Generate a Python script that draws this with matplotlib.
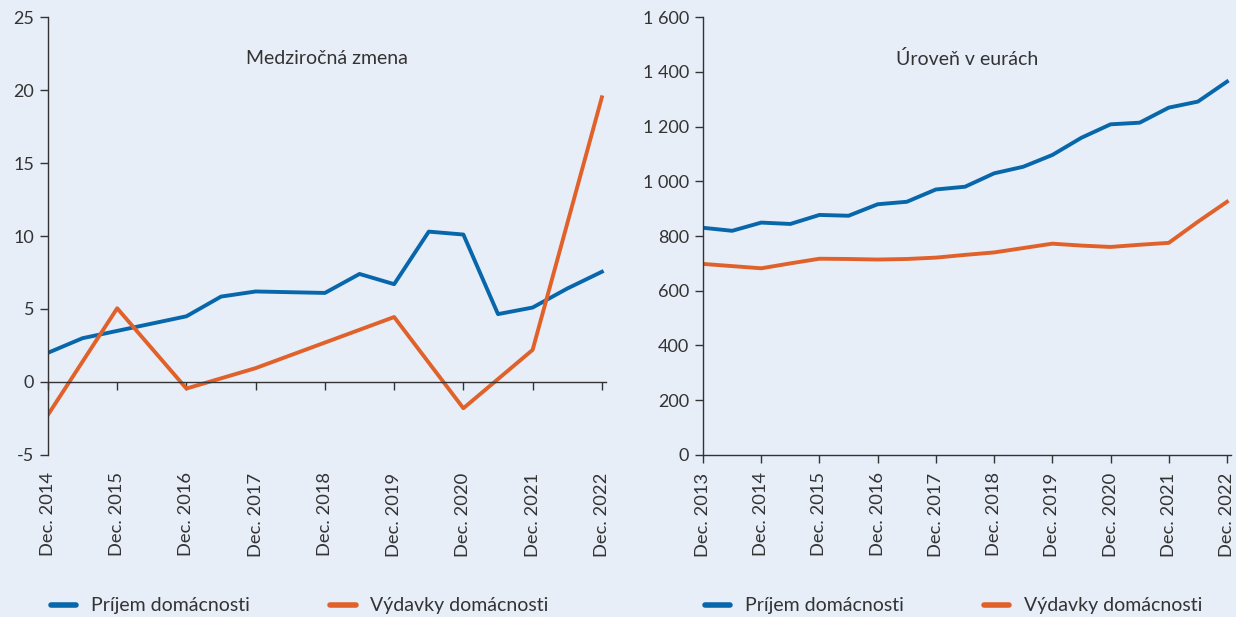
import matplotlib
matplotlib.use("Agg")
import matplotlib.pyplot as plt
from matplotlib.ticker import FuncFormatter, FixedLocator
from matplotlib.transforms import blended_transform_factory
from matplotlib.lines import Line2D

plt.rcParams['font.family'] = ['Lato', 'DejaVu Sans']

# left panel: year-on-year change (%), half-yearly, Dec 2014 .. Dec 2022
yoy_income = [2.0, 3.0, 3.5, 4.0, 4.5, 5.85, 6.2, 6.15, 6.1, 7.4, 6.7,
              10.3, 10.1, 4.65, 5.1, 6.4, 7.55]
# expenditures are yearly only (Dec 2014 .. Dec 2022)
yoy_spend = [-2.25, 5.05, -0.45, 0.95, 2.7, 4.45, -1.8, 2.2, 19.5]
yoy_labels = ["Dec. 2014", "Dec. 2015", "Dec. 2016", "Dec. 2017", "Dec. 2018",
              "Dec. 2019", "Dec. 2020", "Dec. 2021", "Dec. 2022"]

# right panel: level in EUR, half-yearly, Dec 2013 .. Dec 2022
lvl_income = [830, 819, 849, 844, 877, 874, 916, 925, 970, 980, 1029, 1053,
              1096, 1159, 1208, 1214, 1269, 1291, 1364]
lvl_spend = [698, 690, 682, 700, 717, 716, 714, 716, 721, 731, 740, 756,
             772, 765, 760, 768, 775, 852, 925]
lvl_labels = ["Dec. 2013", "Dec. 2014", "Dec. 2015", "Dec. 2016", "Dec. 2017",
              "Dec. 2018", "Dec. 2019", "Dec. 2020", "Dec. 2021", "Dec. 2022"]

titles = ["Medziročná zmena", "Úroveň v eurách"]
names = ["Príjem domácnosti", "Výdavky domácnosti"]

BG = "#e7eef8"
BLUE = "#0867ab"
ORANGE = "#e0622a"
DARK = "#333333"

fig = plt.figure(figsize=(12.36, 6.17), dpi=100, facecolor=BG)
ax1 = fig.add_axes([0.0388, 0.2626, 0.4515, 0.7098], facecolor=BG)
ax2 = fig.add_axes([0.5688, 0.2626, 0.4272, 0.7098], facecolor=BG)


def thousands(v, pos):
    return "{:,.0f}".format(v).replace(",", " ")


def style(ax, labels, step):
    for s in ["top", "right"]:
        ax.spines[s].set_visible(False)
    for s in ["left", "bottom"]:
        ax.spines[s].set_color(DARK)
        ax.spines[s].set_linewidth(1.0)
    ticks = [i * step for i in range(len(labels))]
    ax.xaxis.set_major_locator(FixedLocator(ticks))
    ax.tick_params(axis="x", direction="out", length=6, width=1, color=DARK,
                   labelbottom=False)
    ax.tick_params(axis="y", direction="out", length=6, width=1, color=DARK,
                   labelsize=13, labelcolor=DARK, pad=4)
    ax.yaxis.set_major_formatter(FuncFormatter(thousands))
    tr = blended_transform_factory(ax.transData, ax.transAxes)
    for t, lab in zip(ticks, labels):
        ax.text(t, -0.04, lab, transform=tr, rotation=90, ha="center",
                va="top", fontsize=13.2, color=DARK)


# left panel
x_half = list(range(len(yoy_income)))
x_year = list(range(0, len(yoy_income), 2))
ax1.plot(x_half, yoy_income, color=BLUE, lw=2.8)
ax1.plot(x_year, yoy_spend, color=ORANGE, lw=2.8)
ax1.set_ylim(-5, 25)
ax1.set_yticks([-5, 0, 5, 10, 15, 20, 25])
ax1.set_xlim(0, 16.12)
ax1.spines["bottom"].set_position(("data", 0))
style(ax1, yoy_labels, 2)
ax1.text(0.5, 0.905, titles[0], transform=ax1.transAxes, ha="center",
         va="center", fontsize=14, color=DARK)

# right panel
x_lvl = list(range(len(lvl_income)))
ax2.plot(x_lvl, lvl_income, color=BLUE, lw=2.8)
ax2.plot(x_lvl, lvl_spend, color=ORANGE, lw=2.8)
ax2.set_ylim(0, 1600)
ax2.set_yticks(range(0, 1601, 200))
ax2.set_xlim(0, 18.14)
style(ax2, lvl_labels, 2)
ax2.text(0.5, 0.905, titles[1], transform=ax2.transAxes, ha="center",
         va="center", fontsize=14, color=DARK)

handles = [Line2D([], [], color=BLUE, lw=4, solid_capstyle="round"),
           Line2D([], [], color=ORANGE, lw=4, solid_capstyle="round")]
for x0 in [0.027, 0.556]:
    fig.legend(handles, names, loc="center left", bbox_to_anchor=(x0, 0.018),
               ncol=2, frameon=False, fontsize=14, handlelength=1.3,
               columnspacing=4.15, handletextpad=0.75, labelcolor=DARK)

fig.savefig("out.png", dpi=100, facecolor=BG)
